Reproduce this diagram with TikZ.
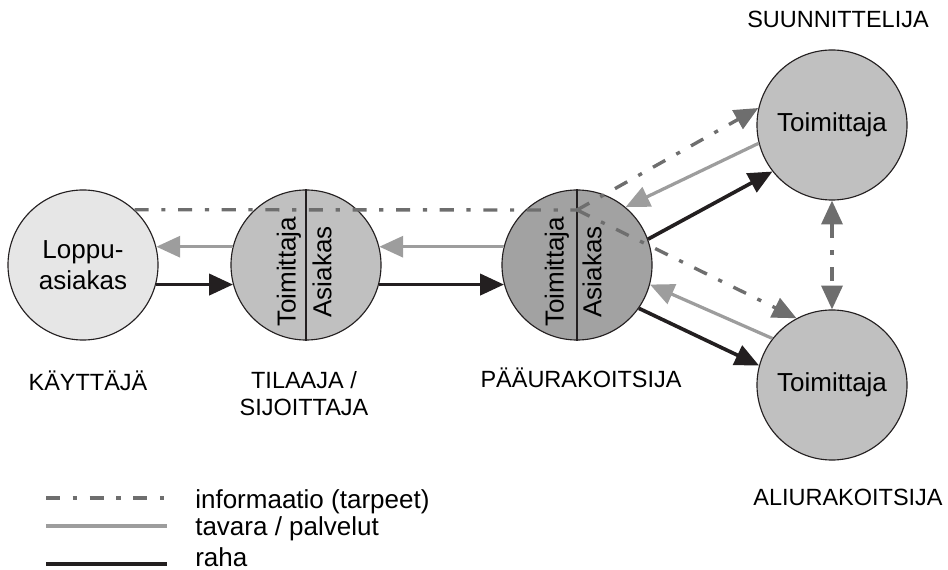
\documentclass[tikz,border=0pt]{standalone}
\usepackage{fontspec}
\setmainfont{Liberation Sans}
\usetikzlibrary{arrows.meta}

\begin{document}
\begin{tikzpicture}[x=0.025cm,y=-0.025cm,
  party/.style={circle,draw=edge,line width=0.8pt,minimum size=3.75cm,inner sep=0pt,align=center,font=\fontsize{18.5}{22}\selectfont},
  roletext/.style={rotate=90,inner sep=0pt,font=\fontsize{18.5}{22}\selectfont},
  rolelabel/.style={align=center,inner sep=0pt,font=\fontsize{16.7}{18.5}\selectfont},
  infoline/.style={draw=infogray,line width=2.4pt,dash pattern=on 10pt off 9pt on 3pt off 9pt},
  goodsline/.style={draw=goodsgray,line width=2.3pt},
  moneyline/.style={draw=edge,line width=2.6pt},
  headed/.style={-{Triangle[length=17pt,width=15pt]}},
  twoheaded/.style={{Triangle[length=17pt,width=15pt]}-{Triangle[length=17pt,width=15pt]}}]
\definecolor{edge}{HTML}{231F20}
\definecolor{infogray}{HTML}{6E6E6E}
\definecolor{goodsgray}{HTML}{9D9D9D}
\definecolor{paleshade}{HTML}{E6E6E6}
\definecolor{midshade}{HTML}{C0C0C0}
\definecolor{darkshade}{HTML}{A2A2A2}
\useasboundingbox (0,0) rectangle (948,570);

% the parties
\node[party,fill=paleshade] (loppu) at (83,265) {Loppu-\\asiakas};
\node[party,fill=midshade] (tilaaja) at (306,265) {};
\node[party,fill=darkshade] (paa) at (577,265) {};
\node[party,fill=midshade] (suun) at (832,125) {Toimittaja};
\node[party,fill=midshade] (ali) at (832,385) {Toimittaja};
\draw[edge,line width=0.8pt] (tilaaja.north) -- (tilaaja.south);
\draw[edge,line width=0.8pt] (paa.north) -- (paa.south);
\node[roletext] (tilaajaT) at (289,272) {Toimittaja};
\node[roletext] (tilaajaA) at (322,272) {Asiakas};
\node[roletext] (paaT) at (557,272) {Toimittaja};
\node[roletext] (paaA) at (592,272) {Asiakas};

% role names
\node[rolelabel,anchor=base] (kayttaja) at (88,391) {KÄYTTÄJÄ};
\node[rolelabel,anchor=base] (tilaajaL) at (304,415) {TILAAJA /\\SIJOITTAJA};
\node[rolelabel,anchor=base] (paaL) at (581,388) {PÄÄURAKOITSIJA};
\node[rolelabel,anchor=base] (suunL) at (838,28) {SUUNNITTELIJA};
\node[rolelabel,anchor=base] (aliL) at (848,505) {ALIURAKOITSIJA};

% information
\coordinate (hub) at (577,210);
\draw[infoline] (loppu.47) -- (hub);
\draw[infoline,headed] (hub) -- (suun.167);
\draw[infoline,headed] (hub) -- (ali.118);
\draw[infoline,twoheaded] (suun.south) -- (ali.north);

% goods and services
\draw[goodsline,headed] (tilaaja.166) -- (loppu.14);
\draw[goodsline,headed] (paa.166) -- (tilaaja.14);
\draw[goodsline,headed] (suun.194) -- (paa.50);
\draw[goodsline,headed] (ali.142) -- (paa.-15);

% money
\draw[moneyline,headed] (loppu.-15) -- (tilaaja.195);
\draw[moneyline,headed] (tilaaja.-15) -- (paa.195);
\draw[moneyline,headed] (paa.20) -- (suun.218);
\draw[moneyline,headed] (paa.-35) -- (ali.165);

% legend
\foreach \ls/\txt/\ly/\ty [count=\i] in {infoline/{informaatio (tarpeet)}/498/508,goodsline/{tavara / palvelut}/526/535,moneyline/{raha}/564/566}
{ \draw[\ls] (46,\ly) -- (167,\ly);
  \node[anchor=base west,inner sep=0pt,font=\fontsize{18.5}{22}\selectfont] (legend\i) at (195,\ty) {\txt}; }
\end{tikzpicture}
\end{document}
